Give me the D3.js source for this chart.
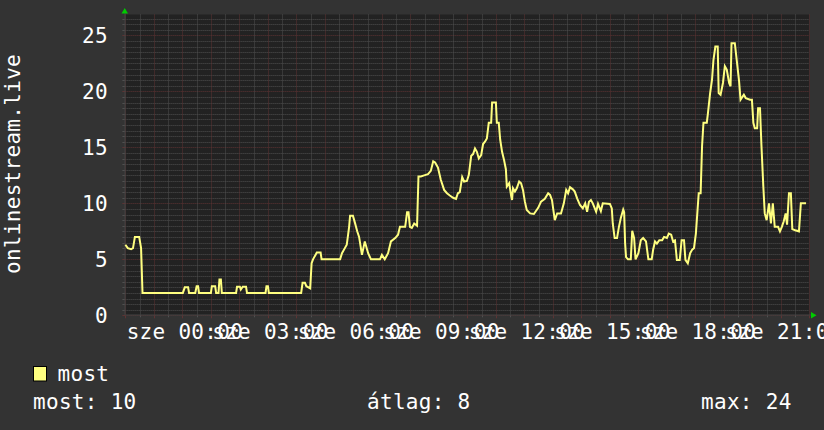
<!DOCTYPE html>
<html>
<head>
<meta charset="utf-8">
<script src="https://cdn.jsdelivr.net/npm/d3@7/dist/d3.min.js"></script>
<style>
  html, body { margin: 0; padding: 0; background: #333333; }
  svg { display: block; }
  text { font-family: "DejaVu Sans Mono", monospace; fill: #ffffff; }
</style>
</head>
<body>
<svg id="chart" width="824" height="430"></svg>
<script>
// ---- data (minutes after 22:00 of the previous day, value) ----
const minutes = [0,5,12,16,20,29,33,36,121,125,132,134,147,150,153,155,180,182,189,191,196,198,201,203,
  233,235,241,243,247,254,256,295,297,300,302,370,373,378,381,389,392,395,403,411,413,452,456,462,466,471,
  473,479,483,488,492,498,504,511,517,536,540,546,553,559,568,574,578,589,593,596,599,603,608,614,617,622,
  629,637,643,648,652,658,664,671,677,683,690,696,700,704,709,713,719,723,728,732,736,740,744,749,753,757,
  761,765,770,772,780,782,786,789,793,797,801,803,808,812,814,816,820,824,829,833,837,841,845,852,860,869,
  875,883,890,894,898,904,909,917,923,928,932,936,942,946,951,957,963,968,972,976,980,984,991,995,1001,1005,
  1020,1024,1026,1030,1035,1039,1043,1048,1050,1052,1054,1058,1064,1067,1071,1074,1080,1085,1090,1096,1101,
  1108,1111,1115,1119,1124,1130,1134,1140,1144,1149,1153,1157,1161,1167,1171,1176,1179,1184,1189,1193,1197,
  1201,1204,1207,1211,1214,1217,1224,1226,1231,1235,1238,1242,1247,1249,1253,1258,1262,1266,1271,1274,1276,
  1283,1287,1292,1295,1302,1306,1315,1319,1322,1325,1330,1332,1336,1339,1343,1346,1350,1355,1359,1363,1367,
  1374,1378,1382,1386,1390,1393,1397,1401,1404,1410,1418,1422,1433];
const users = [6.3,6.0,5.9,6.0,7.0,7.0,6.0,2.0,2.0,2.5,2.5,2.0,2.0,2.6,2.6,2.0,2.0,2.6,2.6,2.0,2.0,3.2,3.2,2.0,
  2.0,2.55,2.55,2.3,2.55,2.55,2.0,2.0,2.6,2.6,2.0,2.0,2.9,2.9,2.6,2.4,4.65,5.0,5.6,5.6,5.0,5.0,5.55,6.0,6.3,7.9,
  8.9,8.9,8.3,7.5,7.0,5.4,6.6,5.55,5.0,5.0,5.4,5.0,5.55,6.6,6.9,7.2,7.9,7.9,9.2,9.2,7.9,7.8,8.2,8.0,12.4,12.4,
  12.5,12.6,12.9,13.75,13.65,13.2,12.1,11.2,10.9,10.7,10.5,10.4,10.9,11.0,12.35,11.95,12.0,12.55,14.25,14.4,14.9,14.6,14.0,14.3,15.3,15.5,
  15.8,17.2,17.2,19.0,19.0,17.2,17.2,15.7,14.6,13.9,13.05,11.5,11.8,10.7,10.3,11.35,11.05,11.35,11.95,11.8,11.2,10.15,9.4,9.1,9.05,9.6,
  10.15,10.4,10.9,10.75,10.3,8.5,9.1,9.1,10.0,11.2,10.9,11.45,11.25,11.05,10.45,9.85,9.55,10.0,9.25,10.15,10.3,10.0,9.25,9.95,9.3,10.0,
  9.95,9.55,8.2,6.9,6.9,7.9,8.7,9.45,9.2,6.45,5.2,5.0,5.0,7.55,6.9,5.0,5.55,6.7,6.9,6.6,5.0,
  5.0,5.85,6.6,6.4,6.7,6.7,7.0,6.9,7.3,7.2,6.6,6.7,4.95,4.95,6.7,6.7,4.95,4.65,5.55,5.85,6.0,
  7.3,9.1,10.9,10.9,15.1,17.2,17.2,17.9,19.85,21.05,22.8,24.0,24.0,19.85,19.7,20.75,22.25,21.95,20.75,20.45,24.3,
  24.3,22.8,20.9,19.25,19.7,19.4,19.25,19.25,17.2,16.7,16.7,18.5,18.5,15.2,11.5,9.1,8.5,10.0,8.2,10.0,7.9,
  7.9,7.5,7.9,8.4,9.1,8.1,10.9,10.9,7.7,7.6,7.5,10.0,10.0];

const yTicks = [0, 5, 10, 15, 20, 25];
const labelHours = [2, 5, 8, 11, 14, 17, 20, 23];          // hours after start
const labelTexts = ["sze 00:00","sze 03:00","sze 06:00","sze 09:00","sze 12:00","sze 15:00","sze 18:00","sze 21:00"];
const axisTitle = "onlinestream.live";
const seriesName = "most";
const statNames = ["most", "átlag", "max"];
const statValues = [10, 8, 24];

(function () {
  const svg = d3.select("#chart");
  const W = 824, H = 430;
  const pL = 125.4, pR = 809.4, pT = 14.5, pB = 315.3;
  const tStart = Date.UTC(2024, 0, 9, 22, 0);
  const tEnd = tStart + 24 * 3600e3;
  const x = d3.scaleUtc().domain([new Date(tStart), new Date(tEnd)]).range([pL, pR]);
  const y = d3.scaleLinear().domain([0, 25]).range([pB, 35.4]);
  const px = v => Math.round(v) + 0.5;
  const MAJ = "#5e3333", MIN = "#505050";

  svg.append("rect").attr("width", W).attr("height", H).attr("fill", "#333333");
  svg.append("rect").attr("x", pL).attr("y", pT).attr("width", pR - pL).attr("height", pB - pT)
    .attr("fill", "#222222");

  const grid = svg.append("g");
  const yMaxVal = y.invert(pT);
  for (let k = 0; k * 0.5 <= yMaxVal; k++) {
    const v = k * 0.5;
    const major = k % 10 === 0;
    const yy = px(y(v));
    grid.append("line").attr("x1", pL).attr("x2", pR).attr("y1", yy).attr("y2", yy)
      .attr("stroke", major ? MAJ : MIN).attr("stroke-width", 1).attr("stroke-dasharray", "1,1");
    grid.append("line").attr("x1", pL - 3).attr("x2", pL).attr("y1", yy).attr("y2", yy)
      .attr("stroke", major ? MAJ : MIN);
  }
  const minorTimes = d3.utcMinute.every(30).range(new Date(tStart), new Date(tEnd + 1));
  minorTimes.forEach(t => {
    const major = t.getUTCMinutes() === 0;
    const xx = px(x(t));
    grid.append("line").attr("x1", xx).attr("x2", xx).attr("y1", pT).attr("y2", pB)
      .attr("stroke", major ? MAJ : MIN).attr("stroke-width", 1).attr("stroke-dasharray", "1,1");
    grid.append("line").attr("x1", xx).attr("x2", xx).attr("y1", pB).attr("y2", pB + (major ? 3 : 2))
      .attr("stroke", major ? MAJ : MIN);
  });

  svg.append("line").attr("x1", pL).attr("x2", 812).attr("y1", Math.round(pB)).attr("y2", Math.round(pB))
    .attr("stroke", "#444").attr("stroke-width", 1);
  svg.append("line").attr("x1", Math.round(pL)).attr("x2", Math.round(pL)).attr("y1", 11).attr("y2", pB)
    .attr("stroke", "#444").attr("stroke-width", 1);
  svg.append("path").attr("d", "M121.5,13.5 L128,13.5 L124.75,8 Z").attr("fill", "#00cc00");
  svg.append("path").attr("d", "M811,312 L811,318.5 L816.5,315.2 Z").attr("fill", "#00cc00");

  svg.append("g").selectAll("text").data(yTicks).join("text")
    .attr("x", 108).attr("y", d => y(d) + 7.8)
    .attr("text-anchor", "end").attr("font-size", 21).attr("letter-spacing", 0.3)
    .text(d => d);

  svg.append("g").selectAll("text").data(labelHours).join("text")
    .attr("x", d => x(new Date(tStart + d * 3600e3)) + 2.5).attr("y", 338.5)
    .attr("text-anchor", "middle").attr("font-size", 21).attr("letter-spacing", 0.3)
    .text((d, i) => labelTexts[i]);

  svg.append("text").attr("transform", "translate(19.5,164) rotate(-90)")
    .attr("text-anchor", "middle").attr("font-size", 21).attr("letter-spacing", 0.3)
    .text(axisTitle);

  const pts = minutes.map((m, i) => ({ t: new Date(tStart + m * 60000), v: users[i] }));
  const line = d3.line().x(d => x(d.t)).y(d => y(d.v)).curve(d3.curveLinear);
  svg.append("path").datum(pts).attr("d", line).attr("fill", "none")
    .attr("stroke", "#ffff80").attr("stroke-width", 2).attr("stroke-linejoin", "miter");

  svg.append("rect").attr("x", 33.5).attr("y", 366.5).attr("width", 13).attr("height", 14.5)
    .attr("fill", "#ffff80").attr("stroke", "#000").attr("stroke-width", 1);
  svg.append("text").attr("x", 57.5).attr("y", 380.7).attr("font-size", 21).attr("letter-spacing", 0.3).text(seriesName);
  const statX = [33, 367, 701];
  svg.append("g").selectAll("text").data(statNames).join("text")
    .attr("x", (d, i) => statX[i]).attr("y", 409.3)
    .attr("font-size", 21).attr("letter-spacing", 0.3)
    .text((d, i) => d + ": " + statValues[i]);
})();
</script>
</body>
</html>
